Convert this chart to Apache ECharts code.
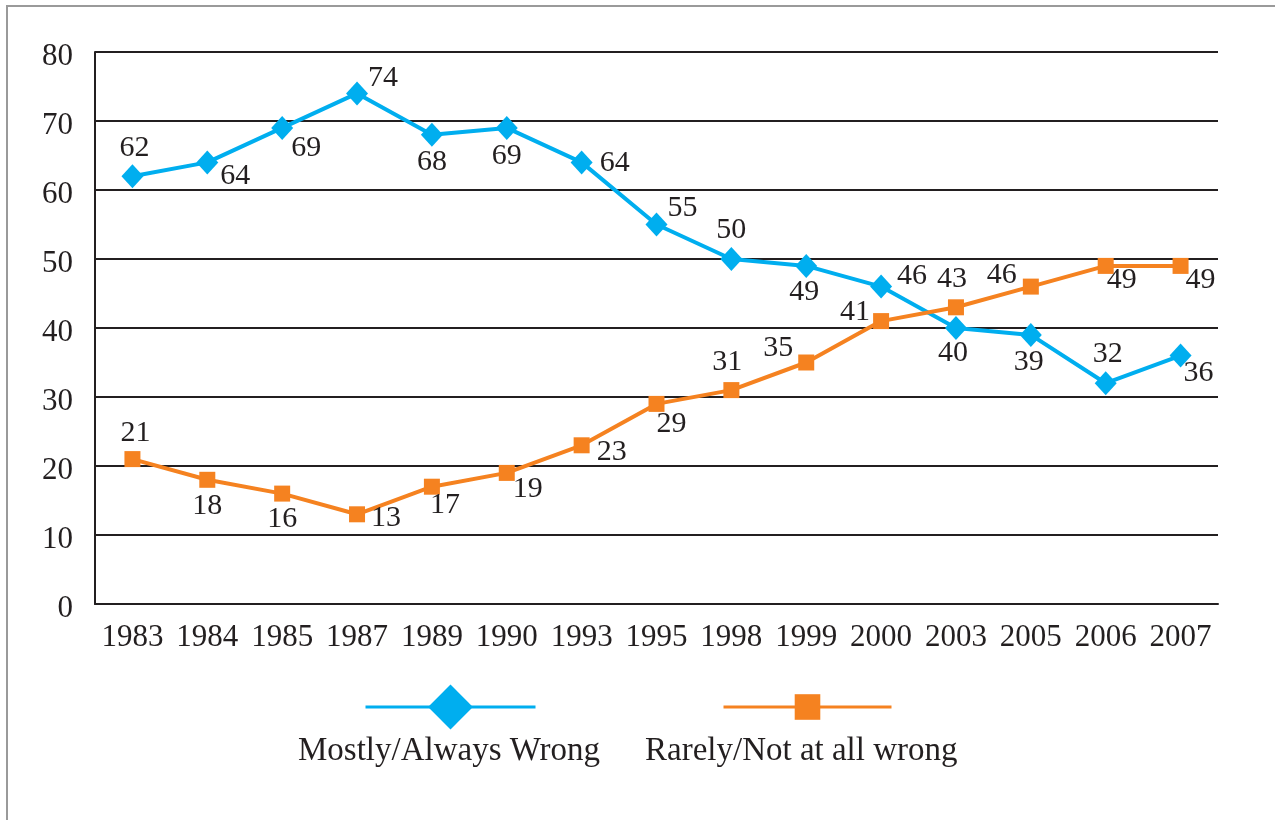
<!DOCTYPE html>
<html>
<head>
<meta charset="utf-8">
<script src="https://cdn.jsdelivr.net/npm/echarts@6/dist/echarts.min.js"></script>
<style>
  body { margin: 0; background: #fff; }
  #wrap { position: relative; width: 1275px; height: 820px; }
  #chart { width: 1275px; height: 820px; }
  #frame {
    position: absolute; left: 6px; top: 5px; right: 0; bottom: 0;
    border-left: 2px solid #9a9a9a; border-top: 2px solid #9a9a9a;
    pointer-events: none;
  }
</style>
</head>
<body>
<div id="wrap">
  <div id="chart"></div>
  <div id="frame"></div>
</div>
<script>
const years = ["1983", "1984", "1985", "1987", "1989", "1990", "1993", "1995",
  "1998", "1999", "2000", "2003", "2005", "2006", "2007"]
const mostlyWrong = [62, 64, 69, 74, 68, 69, 64, 55, 50, 49, 46, 40, 39, 32, 36]
const rarelyWrong = [21, 18, 16, 13, 17, 19, 23, 29, 31, 35, 41, 43, 46, 49, 49]

// where each value label sits relative to its marker
const blueLabelOffsets = [[2, -28], [28, 14], [24, 20], [26, -15], [0, 27], [0, 28], [33, 1], [26, -16],
  [0, -29], [-2, 26], [31, -10], [-3, 25], [-2, 27], [2, -29], [18, 18]]
const orangeLabelOffsets = [[3, -26], [0, 26], [0, 26], [29, 4], [13, 18], [21, 16], [30, 7], [15, 20],
  [-4, -28], [-28, -14], [-26, -9], [-4, -28], [-29, -11], [16, 14], [20, 14]]

const BLUE = "#00aeef"
const ORANGE = "#f58220"
const INK = "#231f20"
const FONT = "Liberation Serif"

const toItems = (vals, offsets) => vals.map((v, i) => ({
  value: v,
  label: { offset: offsets[i] }
}))

const myChart = echarts.init(document.getElementById("chart"))

myChart.setOption({
  animation: false,
  textStyle: { fontFamily: FONT, color: INK },
  grid: { left: 95, right: 57, top: 52, bottom: 216 },
  legend: [
    {
      data: ["Mostly/Always Wrong"],
      left: 364, top: 679,
      padding: 0,
      itemWidth: 170, itemHeight: 56,
      lineStyle: { width: 3 },
      formatter: () => "",
      selectedMode: false
    },
    {
      data: ["Rarely/Not at all wrong"],
      left: 722, top: 691,
      padding: 0,
      itemWidth: 168, itemHeight: 32,
      lineStyle: { width: 3 },
      formatter: () => "",
      selectedMode: false
    }
  ],
  graphic: [
    {
      type: "text", left: 298, top: 735,
      style: { text: "Mostly/Always Wrong", font: "33px " + FONT, fill: INK }
    },
    {
      type: "text", left: 645, top: 735,
      style: { text: "Rarely/Not at all wrong", font: "33px " + FONT, fill: INK }
    }
  ],
  xAxis: {
    type: "category",
    data: years,
    boundaryGap: true,
    axisLine: { lineStyle: { color: INK, width: 2 } },
    axisTick: {
      length: 14,
      lineStyle: { color: INK, width: 2 },
      interval: 0
    },
    axisLabel: {
      interval: 0,
      margin: 18,
      fontSize: 31,
      fontFamily: FONT,
      color: INK
    }
  },
  yAxis: {
    type: "value",
    min: 0, max: 80, interval: 10,
    axisLine: { show: true, lineStyle: { color: INK, width: 2 } },
    axisTick: { show: false },
    splitLine: { lineStyle: { color: INK, width: 2 } },
    axisLabel: {
      margin: 22,
      fontSize: 31,
      fontFamily: FONT,
      color: INK,
      verticalAlign: "top",
      lineHeight: 10
    }
  },
  series: [
    {
      name: "Mostly/Always Wrong",
      type: "line",
      data: toItems(mostlyWrong, blueLabelOffsets),
      symbol: "diamond",
      symbolSize: [22, 24],
      itemStyle: { color: BLUE },
      lineStyle: { color: BLUE, width: 4 },
      label: {
        show: true, position: "inside",
        fontSize: 30, fontFamily: FONT, color: INK
      }
    },
    {
      name: "Rarely/Not at all wrong",
      type: "line",
      data: toItems(rarelyWrong, orangeLabelOffsets),
      symbol: "rect",
      symbolSize: 16,
      itemStyle: { color: ORANGE },
      lineStyle: { color: ORANGE, width: 4 },
      label: {
        show: true, position: "inside",
        fontSize: 30, fontFamily: FONT, color: INK
      }
    }
  ]
})
</script>
</body>
</html>
